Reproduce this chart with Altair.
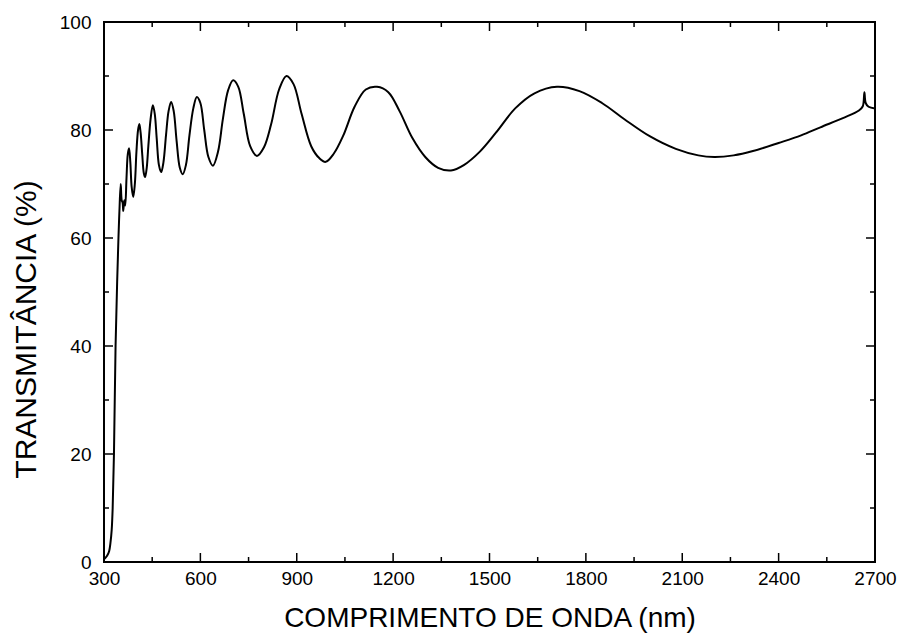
import altair as alt
import pandas as pd

# Transmittance spectrum
wavelength = [300, 305, 310, 316, 320, 324, 327, 331, 336, 341, 345, 348, 352, 355, 358,
              360, 363, 366, 370, 374, 378, 382, 386, 391, 396, 401, 406, 410, 414, 419,
              424, 428, 433, 438, 445, 452, 458, 464, 471, 478, 485, 493, 501, 509, 517,
              526, 536, 545, 555, 566, 578, 589, 600, 612, 625, 639, 655, 670, 686, 702,
              718, 735, 755, 776, 798, 820, 845, 868, 890, 915, 945, 970, 990, 1015, 1045,
              1080, 1115, 1150, 1185, 1220, 1260, 1300, 1340, 1380, 1420, 1470, 1520, 1580,
              1640, 1710, 1780, 1850, 1920, 2000, 2080, 2150, 2200, 2260, 2320, 2400, 2470,
              2530, 2600, 2650, 2662, 2667, 2671, 2680, 2700]
transmittance = [0.5, 0.8, 1.2, 2.0, 3.5, 6.0, 10.0, 20.0, 40.0, 52.0, 60.0, 65.0, 70.0, 67.0, 66.5,
                 65.0, 67.0, 66.0, 71.0, 75.5, 76.6, 74.0, 69.5, 67.6, 70.0, 76.0, 80.0, 81.1, 79.5, 75.5,
                 72.0, 71.3, 73.0, 77.0, 82.0, 84.6, 83.0, 78.5, 73.5, 72.2, 74.0, 79.0, 83.5, 85.2, 83.5,
                 78.0, 73.0, 71.8, 73.5, 79.0, 84.0, 86.1, 85.0, 80.0, 75.0, 73.4, 76.0, 82.0, 87.3, 89.2,
                 88.0, 83.0, 77.0, 75.2, 76.8, 81.0, 87.5, 90.0, 88.5, 83.0, 77.0, 74.8, 74.1, 75.6, 79.0,
                 84.3, 87.5, 88.0, 87.0, 83.5, 78.5, 75.0, 73.0, 72.5, 73.5, 76.0, 79.5, 84.0,
                 86.8, 88.0, 87.2, 85.0, 82.0, 78.8, 76.5, 75.3, 75.0, 75.3, 76.1, 77.6, 79.0,
                 80.5, 82.2, 83.6, 84.4, 87.0, 85.0, 84.3, 84.0]

x_major = [300, 600, 900, 1200, 1500, 1800, 2100, 2400, 2700]
x_minor = [450, 750, 1050, 1350, 1650, 1950, 2250, 2550]
y_major = [0, 20, 40, 60, 80, 100]
y_minor = [10, 30, 50, 70, 90]

W, H = 771, 540
FONT = "Liberation Sans"

spec = pd.DataFrame({"wl": wavelength, "T": transmittance})
xs = alt.Scale(domain=[300, 2700], nice=False, zero=False)
ys = alt.Scale(domain=[0, 100], nice=False, zero=False)

line = alt.Chart(spec).mark_line(color="black", strokeWidth=2, interpolate="catmull-rom", clip=True).encode(
    x=alt.X("wl:Q", scale=xs,
            axis=alt.Axis(title="COMPRIMENTO DE ONDA (nm)", values=x_major, format="d",
                          ticks=False, domain=False, grid=False, labelPadding=7,
                          labelFlush=False, labelOverlap=False,
                          labelFontSize=19, labelFont=FONT, labelColor="black",
                          titleFontSize=28, titleFont=FONT, titleFontWeight="normal",
                          titleColor="black", titleBaseline="alphabetic", titleY=64)),
    y=alt.Y("T:Q", scale=ys,
            axis=alt.Axis(title="TRANSMITÂNCIA (%)", values=y_major, format="d",
                          ticks=False, domain=False, grid=False, labelPadding=13,
                          labelFlush=False, labelOverlap=False,
                          labelFontSize=19, labelFont=FONT, labelColor="black",
                          titleFontSize=30, titleFont=FONT, titleFontWeight="normal",
                          titleColor="black", titleBaseline="alphabetic", titleAngle=270,
                          titleX=-69, titleY=307)),
)

xt = pd.DataFrame({"v": x_major + x_minor, "len": [9] * len(x_major) + [5] * len(x_minor)})
yt = pd.DataFrame({"v": y_major + y_minor, "len": [9] * len(y_major) + [5] * len(y_minor)})

def xticks(y0, sign):
    layers = []
    for L in (9, 5):
        d = xt[xt["len"] == L]
        layers.append(alt.Chart(d).mark_rule(color="black", strokeWidth=1.5).encode(
            x=alt.X("v:Q", scale=xs), y=alt.value(y0), y2=alt.value(y0 + sign * L)))
    return layers

def yticks(x0, sign):
    layers = []
    for L in (9, 5):
        d = yt[yt["len"] == L]
        layers.append(alt.Chart(d).mark_rule(color="black", strokeWidth=1.5).encode(
            y=alt.Y("v:Q", scale=ys), x=alt.value(x0), x2=alt.value(x0 + sign * L)))
    return layers

ticks = xticks(H, -1) + xticks(0, 1) + yticks(0, 1) + yticks(W, -1)

chart = alt.layer(line, *ticks).properties(
    width=W, height=H,
    padding={"left": 104, "top": 22, "right": 898 - 104 - W, "bottom": 639 - 22 - H},
    autosize=alt.AutoSizeParams(type="none"),
    background="white",
).configure_view(stroke="black", strokeWidth=2)

chart.save("out.html", embed_options={"renderer": "svg", "actions": False})
